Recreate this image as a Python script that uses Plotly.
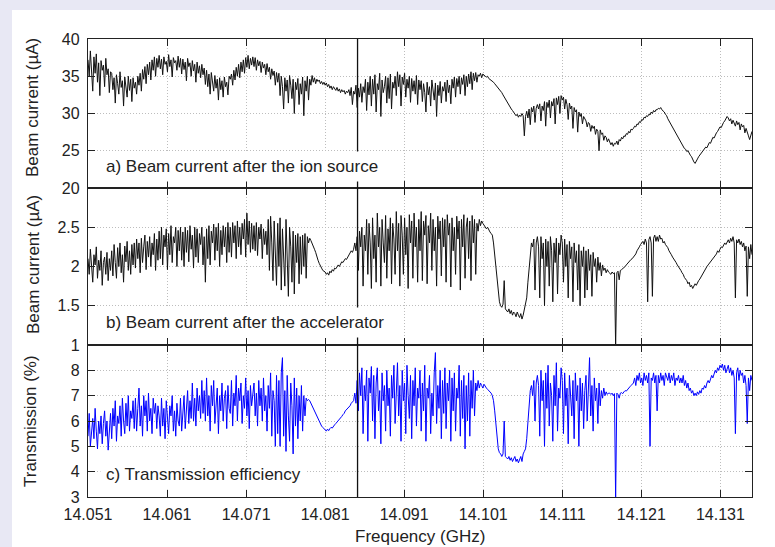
import numpy as np
import plotly.graph_objects as go

# ---------------- data ----------------
FREQ_START = 14.051      # GHz, first sample
FREQ_STEP = 0.00015

ion_source_uA = [
    37.2, 35.0, 38.4, 36.1, 33.0, 37.6, 35.4, 38.0, 34.2, 36.8, 32.4, 37.1, 35.8, 36.5, 33.6, 37.4, 35.2, 36.0, 32.8, 35.6,
    35.4, 33.2, 34.8, 31.4, 35.2, 34.0, 32.6, 35.6, 33.5, 34.4, 31.0, 34.9, 33.8, 32.2, 35.0, 33.1, 34.6, 31.6, 34.8, 33.4,
    34.2, 32.6, 35.0, 33.8, 35.4, 33.0, 35.9, 34.6, 36.3, 34.0, 36.6, 35.2, 36.9, 34.5, 37.2, 35.8, 37.6, 35.0, 37.4, 36.2,
    37.8, 36.0, 37.3, 35.2, 37.6, 36.6, 37.0, 35.6, 37.9, 36.3, 37.2, 34.9, 37.5, 36.8, 37.1, 35.8, 37.7, 36.2, 37.4, 35.3,
    37.3, 35.9, 36.9, 34.4, 37.4, 36.3, 36.8, 35.0, 37.1, 35.7, 36.6, 34.2, 36.9, 35.4, 36.4, 34.8, 36.6, 35.2, 36.1, 33.9,
    35.8, 33.6, 35.3, 32.6, 35.5, 34.0, 33.0, 35.1, 33.4, 34.6, 31.8, 34.8, 33.2, 34.4, 32.2, 34.9, 33.6, 34.2, 32.5, 35.0,
    34.6, 35.3, 33.8, 35.8, 34.5, 36.2, 35.0, 36.6, 34.8, 36.9, 35.6, 37.2, 35.4, 37.5, 36.2, 37.8, 36.0, 37.4, 36.5, 37.6,
    36.3, 37.5, 35.8, 37.2, 36.4, 37.0, 35.5, 36.9, 36.1, 36.6, 35.2, 36.7, 35.6, 36.2, 34.6, 36.0, 35.1, 35.7, 33.8, 35.5,
    34.2, 35.4, 32.4, 35.0, 33.6, 30.6, 34.8, 33.0, 34.5, 31.4, 35.1, 33.8, 32.0, 34.6, 30.0, 34.2, 33.2, 34.7, 31.2, 34.0,
    32.6, 34.9, 29.7, 34.4, 33.0, 35.0, 31.8, 34.6, 33.8, 35.1, 34.2, 34.8, 34.0, 34.6, 34.3, 34.5, 34.0, 34.3, 33.9, 34.2,
    33.8, 34.1, 33.6, 33.9, 33.4, 33.7, 33.2, 33.6, 33.3, 33.1, 33.5, 33.0, 33.3, 32.8, 33.2, 32.9, 33.1, 32.6, 33.0, 32.8,
    33.2, 32.4, 33.5, 31.2, 33.0, 32.6, 33.8, 30.8, 33.4, 32.2, 34.0, 31.5, 33.6, 32.8, 34.6, 30.4, 34.2, 32.5, 35.0, 31.0,
    34.6, 32.6, 35.2, 30.2, 34.0, 33.2, 35.4, 29.6, 34.5, 32.8, 33.6, 35.0, 31.4, 34.8, 32.0, 35.3, 30.6, 34.2, 33.4, 35.0,
    32.4, 35.6, 33.6, 35.2, 31.0, 34.9, 33.9, 35.4, 32.2, 34.6, 33.4, 35.0, 31.5, 34.7, 33.0, 34.4, 32.6, 35.1, 31.2, 34.5,
    33.2, 34.4, 31.6, 34.0, 32.8, 30.2, 34.2, 32.5, 33.6, 31.0, 34.5, 33.0, 31.8, 34.1, 29.6, 33.8, 32.4, 34.3, 31.4, 33.6,
    33.0, 34.2, 31.6, 34.5, 32.8, 33.8, 31.3, 34.6, 33.4, 34.9, 32.2, 34.7, 33.6, 35.0, 32.6, 34.8, 33.9, 35.2, 32.4, 35.0,
    33.6, 35.3, 34.0, 35.6, 33.2, 35.4, 34.4, 35.5, 34.2, 35.2, 35.0, 35.4, 34.8, 35.3, 35.1, 35.0, 34.9, 35.0, 34.7, 34.6,
    34.5, 34.4, 34.2, 34.0, 33.8, 33.7, 33.4, 33.2, 33.0, 32.8, 32.5, 32.2, 32.0, 31.7, 31.4, 31.2, 30.9, 30.6, 30.4, 30.1,
    30.0, 29.7, 29.9, 29.5, 29.8, 29.6, 30.0, 29.7, 27.0, 29.6, 30.3, 29.4, 30.6, 28.5, 30.8, 30.2, 31.0, 28.8, 30.7, 31.2,
    30.6, 31.3, 29.0, 31.0, 30.4, 31.6, 28.3, 31.5, 30.8, 31.8, 29.4, 31.6, 31.0, 32.0, 28.6, 32.1, 31.2, 32.3, 30.0, 32.4,
    31.8, 32.2, 30.6, 31.9, 31.2, 29.2, 31.4, 30.6, 31.0, 28.0, 30.8, 30.2, 30.5, 27.5, 30.2, 29.6, 30.0, 28.6, 29.6, 29.2,
    29.0, 28.2, 28.8, 28.6, 27.6, 28.4, 28.0, 28.3, 27.2, 27.9, 27.6, 25.0, 27.8, 27.2, 27.4, 26.4, 27.0, 26.8, 26.2, 26.6,
    26.2, 25.8, 26.1, 25.6, 26.0, 25.9, 26.3, 25.8, 26.5, 26.3, 26.8, 26.6, 27.0, 26.9, 27.3, 27.2, 27.6, 27.4, 27.9, 27.8,
    28.0, 28.3, 28.2, 28.6, 28.5, 28.9, 28.8, 29.2, 29.1, 29.5, 29.4, 29.7, 29.6, 29.9, 29.8, 30.2, 30.0, 30.4, 30.2, 30.5,
    30.5, 30.7, 30.6, 30.8, 30.5, 30.4, 30.2, 29.9, 29.7, 29.3, 29.0, 28.7, 28.4, 28.1, 27.8, 27.5, 27.2, 26.9, 26.7, 26.4,
    26.1, 25.8, 25.6, 25.3, 25.2, 24.9, 25.0, 24.6, 24.4, 24.2, 23.8, 23.5, 23.3, 23.7, 23.9, 24.2, 24.4, 24.7, 24.8, 25.1,
    25.2, 25.5, 25.4, 25.8, 26.1, 26.0, 26.5, 26.8, 26.7, 27.2, 27.4, 27.6, 27.9, 28.2, 28.1, 28.6, 28.8, 29.0, 29.3, 29.6,
    29.4, 29.0, 29.3, 28.6, 29.1, 28.8, 28.3, 29.0, 28.5, 28.8, 27.8, 28.6, 28.2, 28.4, 27.4, 28.0, 27.6, 27.0, 26.5, 27.3,
    27.6,
]

accelerator_uA = [
    2.10, 1.90, 2.22, 1.98, 1.80, 2.15, 2.02, 2.25, 1.85, 2.08, 1.95, 2.20, 1.76, 2.05, 2.12, 1.90, 2.18, 1.82, 2.10, 1.95,
    2.20, 1.88, 2.28, 2.05, 1.85, 2.24, 2.00, 2.30, 1.92, 2.15, 1.80, 2.26, 2.06, 2.32, 1.95, 2.20, 1.90, 2.28, 2.02, 2.30,
    1.98, 2.35, 2.10, 2.30, 1.92, 2.36, 2.05, 2.25, 2.40, 1.96, 2.32, 2.12, 2.38, 2.00, 2.30, 2.15, 2.42, 1.95, 2.35, 2.08,
    2.45, 2.10, 2.50, 2.02, 2.40, 2.25, 2.48, 1.96, 2.42, 2.15, 2.52, 2.05, 2.38, 2.30, 2.50, 2.00, 2.46, 2.20, 2.50, 2.08,
    2.44, 2.00, 2.50, 2.18, 2.46, 2.06, 2.52, 2.22, 2.40, 1.98, 2.50, 2.12, 2.48, 2.05, 2.42, 2.28, 2.50, 2.02, 2.38, 1.80,
    2.48, 2.10, 2.52, 2.02, 2.45, 2.30, 2.54, 2.08, 2.50, 2.20, 2.55, 2.00, 2.46, 2.15, 2.52, 2.25, 2.50, 2.05, 2.56, 2.18,
    2.50, 2.12, 2.56, 2.30, 2.52, 2.10, 2.58, 2.25, 2.50, 2.15, 2.55, 2.35, 2.60, 2.12, 2.68, 2.28, 2.58, 2.18, 2.55, 2.22,
    2.52, 2.20, 2.56, 2.14, 2.50, 2.35, 2.54, 2.10, 2.48, 2.28, 2.45, 2.15, 2.60, 1.95, 2.64, 2.30, 1.82, 2.58, 2.10, 1.76,
    2.55, 2.00, 2.62, 1.70, 2.48, 2.20, 1.75, 2.60, 2.10, 1.62, 2.50, 2.25, 1.80, 2.45, 1.65, 2.40, 2.05, 2.42, 1.78, 2.38,
    1.90, 2.40, 2.00, 2.42, 1.85, 2.38, 2.30, 2.36, 2.33, 2.30, 2.26, 2.22, 2.18, 2.12, 2.08, 2.04, 2.00, 1.98, 1.95, 1.94,
    1.93, 1.90, 1.92, 1.89, 1.94, 1.92, 1.96, 1.94, 1.98, 1.97, 2.00, 2.02, 2.00, 2.04, 2.06, 2.05, 2.08, 2.10, 2.09, 2.12,
    2.14, 2.16, 2.20, 2.18, 2.22, 2.30, 2.20, 2.38, 1.95, 2.45, 2.25, 2.50, 1.75, 2.40, 2.20, 2.60, 1.90, 2.55, 2.30, 1.72,
    2.62, 2.10, 2.40, 1.80, 2.68, 2.25, 2.50, 1.75, 2.60, 2.30, 2.05, 2.65, 1.85, 2.48, 2.20, 2.62, 1.78, 2.55, 2.35, 1.90,
    2.70, 2.20, 2.55, 1.75, 2.65, 2.40, 1.90, 2.62, 2.15, 2.50, 1.72, 2.66, 2.30, 2.58, 1.85, 2.68, 2.25, 2.50, 1.80, 2.60,
    2.20, 2.70, 1.82, 2.58, 2.40, 2.65, 1.78, 2.52, 2.30, 2.68, 1.95, 2.60, 2.20, 2.50, 1.75, 2.64, 2.35, 2.58, 1.88, 2.62,
    2.25, 2.60, 1.80, 2.66, 2.40, 2.55, 1.74, 2.62, 2.20, 2.50, 1.90, 2.64, 2.35, 2.58, 1.70, 2.60, 2.25, 2.66, 1.85, 2.50,
    2.62, 2.10, 2.58, 1.82, 2.65, 2.30, 2.60, 1.90, 2.55, 2.45, 2.60, 2.52, 2.58, 2.55, 2.52, 2.50, 2.48, 2.50, 2.46, 2.44,
    2.42, 2.40, 2.30, 2.15, 2.00, 1.80, 1.62, 1.55, 1.50, 1.48, 1.52, 1.82, 1.46, 1.44, 1.42, 1.46, 1.40, 1.44, 1.38, 1.42,
    1.40, 1.36, 1.42, 1.38, 1.35, 1.40, 1.33, 1.38, 1.45, 1.50, 1.60, 1.80, 2.00, 2.20, 2.30, 2.25, 2.35, 1.70, 2.30, 2.38,
    2.25, 1.60, 2.38, 2.10, 2.30, 1.50, 2.35, 2.00, 2.32, 1.75, 2.38, 2.20, 1.55, 2.30, 2.05, 2.36, 1.65, 2.30, 2.15, 2.40,
    2.30, 1.80, 2.35, 2.00, 2.28, 1.60, 2.32, 2.10, 2.25, 1.55, 2.30, 2.05, 2.20, 1.70, 2.28, 1.50, 2.20, 2.00, 2.25, 1.60,
    2.20, 1.70, 2.22, 1.95, 2.15, 1.62, 2.18, 2.00, 2.10, 1.80, 2.12, 1.95, 2.05, 1.88, 2.02, 1.95, 1.98, 1.92, 1.96, 1.93,
    1.92, 1.90, 1.93, 1.91, 1.92, 0.98, 1.92, 1.94, 1.83, 1.95, 1.96, 1.97, 1.99, 2.00, 2.02, 2.04, 2.05, 2.07, 2.09, 2.10,
    2.12, 2.14, 2.16, 2.20, 2.22, 2.25, 2.28, 2.30, 2.32, 2.28, 2.35, 2.30, 1.55, 2.34, 2.38, 2.30, 1.62, 2.36, 2.40, 2.32,
    2.38, 2.32, 2.40, 2.35, 2.36, 2.30, 2.32, 2.28, 2.26, 2.24, 2.20, 2.18, 2.15, 2.12, 2.10, 2.07, 2.05, 2.02, 2.00, 1.97,
    1.95, 1.92, 1.90, 1.86, 1.84, 1.82, 1.78, 1.80, 1.74, 1.76, 1.72, 1.75, 1.78, 1.76, 1.80, 1.82, 1.84, 1.87, 1.90, 1.92,
    1.95, 1.97, 2.00, 2.02, 2.04, 2.06, 2.08, 2.10, 2.12, 2.14, 2.16, 2.20, 2.18, 2.22, 2.25, 2.24, 2.28, 2.30, 2.28, 2.32,
    2.34, 2.30, 2.36, 2.32, 2.38, 2.30, 1.60, 2.34, 2.30, 2.35, 2.28, 2.32, 2.25, 2.30, 2.20, 2.26, 1.62, 2.25, 2.10, 2.28,
    2.15,
]

transmission_pct = [
    5.4, 6.3, 5.0, 5.8, 6.1, 5.3, 6.5, 5.6, 4.9, 6.0, 5.5, 6.2, 5.1, 5.9, 6.4, 5.4, 6.0, 4.85, 5.7, 6.3,
    5.3, 6.5, 5.8, 6.8, 5.2, 6.2, 5.9, 6.6, 5.4, 6.9, 6.0, 5.5, 6.7, 5.8, 7.0, 5.6, 6.4, 6.1, 6.8, 5.7,
    6.9, 5.6, 6.5, 7.3, 5.8, 6.6, 5.4, 7.0, 6.2, 6.8, 5.6, 7.1, 6.0, 6.5, 5.5, 6.9, 6.3, 6.7, 5.7, 6.6,
    6.2, 5.4, 6.9, 5.8, 6.5, 5.3, 6.8, 6.0, 5.5, 6.6, 6.2, 7.0, 5.6, 6.4, 5.4, 6.7, 6.0, 5.8, 6.9, 5.6,
    6.3, 7.0, 5.7, 6.6, 7.2, 5.9, 6.8, 6.1, 7.5, 6.0, 6.9, 5.8, 7.3, 6.4, 7.0, 6.1, 7.6, 6.3, 7.2, 6.0,
    7.7, 6.2, 7.0, 5.6, 7.4, 6.6, 7.6, 5.9, 6.8, 7.3, 5.5, 7.0, 6.4, 7.5, 6.0, 6.9, 7.2, 5.7, 7.4, 6.5,
    6.3, 7.6, 5.8, 7.1, 6.6, 7.8, 6.0, 7.3, 6.8, 7.5, 5.9, 7.0, 6.5, 7.7, 6.2, 7.2, 5.7, 7.4, 6.6, 7.0,
    7.5, 6.2, 7.1, 5.8, 7.6, 6.6, 7.3, 6.0, 7.7, 6.4, 7.0, 5.6, 7.4, 6.5, 7.9, 5.4, 7.2, 6.8, 5.0, 7.8,
    5.5, 7.6, 5.0, 7.9, 8.5, 5.4, 7.2, 4.8, 7.8, 6.2, 5.2, 7.5, 6.6, 4.7, 7.7, 5.8, 7.3, 5.3, 7.0, 6.0,
    7.4, 5.6, 7.0, 6.2, 6.9, 6.8, 6.85, 6.8, 6.7, 6.6, 6.5, 6.4, 6.3, 6.15, 6.05, 5.95, 5.85, 5.8, 5.75, 5.7,
    5.65, 5.6, 5.68, 5.62, 5.7, 5.75, 5.72, 5.8, 5.85, 5.9, 5.95, 6.0, 6.05, 6.1, 6.18, 6.25, 6.3, 6.4, 6.45, 6.5,
    6.55, 6.6, 6.7, 6.75, 6.8, 7.1, 6.7, 7.6, 6.4, 7.9, 7.0, 8.1, 5.5, 7.4, 6.8, 8.0, 5.2, 7.7, 7.1, 8.15,
    6.0, 7.8, 5.3, 7.5, 8.1, 6.4, 7.2, 5.1, 7.9, 6.8, 7.4, 5.6, 8.0, 6.6, 7.3, 5.4, 7.8, 6.9, 8.2, 5.9,
    7.6, 8.3, 6.2, 7.4, 5.2, 8.0, 6.8, 7.5, 5.5, 8.2, 7.0, 6.1, 7.8, 5.3, 7.6, 6.6, 8.1, 5.8, 7.3, 6.9,
    8.0, 5.6, 7.5, 6.4, 8.2, 5.2, 7.3, 6.9, 7.8, 5.5, 7.1, 6.2, 7.9, 8.7, 5.9, 7.4, 6.5, 8.0, 5.3, 7.6,
    6.3, 8.1, 5.7, 7.5, 6.8, 8.0, 5.2, 7.7, 6.4, 7.9, 5.6, 7.3, 6.9, 8.2, 5.4, 7.6, 6.1, 7.8, 4.9, 7.4,
    6.0, 7.9, 5.4, 7.6, 6.5, 8.0, 6.2, 7.5, 7.2, 7.6, 7.3, 7.5, 7.4, 7.3, 7.45, 7.35, 7.3, 7.25, 7.2, 7.15,
    7.1, 7.0, 6.8, 6.4, 5.9, 5.4, 4.9, 4.75, 4.7, 4.6, 4.7, 6.0, 4.6, 4.55, 4.5, 4.6, 4.45, 4.55, 4.4, 4.5,
    4.6, 4.4, 4.5, 4.35, 4.45, 4.6, 4.4, 4.7, 4.8, 4.9, 5.3, 5.9, 6.6, 7.2, 7.4, 7.0, 7.6, 6.0, 7.5, 7.8,
    7.4, 5.4, 8.0, 6.8, 7.6, 5.0, 7.9, 6.5, 8.2, 5.8, 7.5, 7.0, 5.2, 7.8, 6.6, 8.3, 5.6, 7.3, 6.9, 8.1,
    7.6, 5.5, 7.9, 6.6, 7.3, 5.1, 7.8, 7.0, 6.2, 7.6, 5.3, 7.9, 6.8, 7.4, 5.0, 7.7, 6.4, 7.5, 5.7, 7.2,
    7.8, 6.0, 7.6, 8.5, 6.2, 7.4, 5.6, 7.7, 6.8, 7.3, 5.9, 7.5, 6.6, 7.2, 6.9, 7.3, 7.0, 7.15, 7.05, 7.1,
    7.1, 7.05, 7.1, 7.0, 7.08, 2.9, 7.1, 7.05, 6.9, 7.1, 7.12, 7.08, 7.15, 7.2, 7.18, 7.25, 7.3, 7.35, 7.4, 7.45,
    7.5, 7.7, 7.4, 7.8, 7.6, 7.9, 7.5, 7.7, 7.4, 7.9, 7.6, 7.8, 7.5, 7.9, 5.0, 7.7, 7.6, 7.9, 7.5, 7.8,
    6.4, 7.8, 7.5, 7.9, 7.6, 7.8, 7.4, 7.9, 7.7, 7.6, 7.9, 7.5, 7.8, 7.6, 7.9, 7.4, 7.7, 7.6, 7.8, 7.5,
    7.7, 7.5, 7.8, 7.4, 7.6, 7.3, 7.5, 7.2, 7.3, 7.1, 7.2, 7.0, 7.1, 7.0, 7.15, 7.05, 7.2, 7.1, 7.3, 7.25,
    7.4, 7.3, 7.5, 7.6, 7.5, 7.7, 7.8, 7.7, 7.9, 8.0, 7.9, 8.1, 8.0, 8.2, 8.1, 8.25, 8.0, 8.2, 7.9, 8.1,
    8.2, 7.9, 8.1, 7.8, 8.0, 7.7, 5.5, 7.9, 8.1, 7.6, 8.0, 7.8, 7.9, 7.5, 7.8, 7.4, 5.9, 7.7, 7.2, 7.8,
    7.6,
]

x_tick_vals = [14.051, 14.061, 14.071, 14.081, 14.091, 14.101, 14.111, 14.121, 14.131]
x_tick_text = ["14.051", "14.061", "14.071", "14.081", "14.091", "14.101", "14.111", "14.121", "14.131"]
x_range = [14.051, 14.135]
marker_freq = 14.0851

a_ticks = [20, 25, 30, 35, 40]
a_text = ["20", "25", "30", "35", "40"]
b_ticks = [1, 1.5, 2, 2.5, 3]
b_text = ["1", "1.5", "2", "2.5", ""]
c_ticks = [3, 4, 5, 6, 7, 8, 9]
c_text = ["3", "4", "5", "6", "7", "8", ""]

panel_labels = ["a) Beam current after the ion source",
                "b) Beam current after the accelerator",
                "c) Transmission efficiency"]
y_titles = ["Beam current (\u00b5A)", "Beam current (\u00b5A)", "Transmission (%)"]
x_title = "Frequency (GHz)"

# ---------------- figure ----------------
def freq_for(series):
    return np.round(FREQ_START + FREQ_STEP * np.arange(len(series)), 5)

W, H = 775, 547
L, R, T, B = 88, 23, 39, 50
PH = H - T - B            # 458
PW = W - L - R            # 664

def py(pix):   # pixel row -> paper y
    return (H - B - pix) / PH

def px(pix):   # pixel column -> paper x
    return (pix - L) / PW

FONT = "Liberation Sans, Arial, Helvetica, sans-serif"
TXT = "#222222"

fig = go.Figure()
fig.add_trace(go.Scatter(x=freq_for(ion_source_uA), y=ion_source_uA, mode="lines",
                         line=dict(color="#111111", width=1), xaxis="x", yaxis="y",
                         showlegend=False))
fig.add_trace(go.Scatter(x=freq_for(accelerator_uA), y=accelerator_uA, mode="lines",
                         line=dict(color="#111111", width=1), xaxis="x2", yaxis="y2",
                         showlegend=False))
fig.add_trace(go.Scatter(x=freq_for(transmission_pct), y=transmission_pct, mode="lines",
                         line=dict(color="#0000ff", width=1), xaxis="x3", yaxis="y3",
                         showlegend=False))

axis_common = dict(
    showline=True, linecolor="#222222", linewidth=1.3, mirror="ticks",
    ticks="inside", ticklen=7, tickwidth=1, tickcolor="#222222",
    showgrid=True, gridcolor="#bdbdbd", gridwidth=1, griddash="1px,2px",
    zeroline=False, automargin=False,
    tickfont=dict(family=FONT, size=16, color=TXT),
)

dom_a = [py(188), 1.0]
dom_b = [py(345), py(188)]
dom_c = [0.0, py(345)]

xa = dict(axis_common, range=x_range, tickvals=x_tick_vals, ticktext=x_tick_text)
fig.update_layout(
    width=W, height=H,
    margin=dict(l=L, r=R, t=T, b=B),
    paper_bgcolor="white", plot_bgcolor="white",
    xaxis=dict(xa, anchor="y", showticklabels=False),
    xaxis2=dict(xa, anchor="y2", matches="x", showticklabels=False),
    xaxis3=dict(xa, anchor="y3", matches="x", showticklabels=True, ticklabelstandoff=3),
    yaxis=dict(axis_common, domain=dom_a, range=[20, 40], tickvals=a_ticks, ticktext=a_text,
               anchor="x", ticklabelstandoff=4),
    yaxis2=dict(axis_common, domain=dom_b, range=[1, 3], tickvals=b_ticks, ticktext=b_text,
                anchor="x2", ticklabelstandoff=4),
    yaxis3=dict(axis_common, domain=dom_c, range=[3, 9], tickvals=c_ticks, ticktext=c_text,
                anchor="x3", ticklabelstandoff=4),
    showlegend=False,
)

LAV = "#e8e8f4"
fig.add_shape(type="rect", xref="paper", yref="paper", x0=px(-5), x1=px(780),
              y0=py(10), y1=py(-5), fillcolor=LAV, line=dict(width=0), layer="below")
fig.add_shape(type="rect", xref="paper", yref="paper", x0=px(-5), x1=px(12),
              y0=py(552), y1=py(-5), fillcolor=LAV, line=dict(width=0), layer="below")

fig.add_shape(type="line", xref="x3", yref="paper", x0=marker_freq, x1=marker_freq,
              y0=0, y1=1, line=dict(color="#111111", width=1.3), layer="above")

label_rows = [166.7, 322.7, 474.0]
for text, row in zip(panel_labels, label_rows):
    fig.add_annotation(text=text, xref="paper", yref="paper", x=px(100), y=py(row),
                       xanchor="left", yanchor="middle", showarrow=False,
                       bgcolor="white", borderpad=5,
                       font=dict(family=FONT, size=17, color=TXT))

title_pos = [(33, 108), (33, 265), (30, 421)]
for text, (cx, cy) in zip(y_titles, title_pos):
    fig.add_annotation(text=text, xref="paper", yref="paper", x=px(cx), y=py(cy),
                       xanchor="center", yanchor="middle", textangle=-90, showarrow=False,
                       font=dict(family=FONT, size=17, color=TXT))

fig.add_annotation(text=x_title, xref="paper", yref="paper", x=0.5, y=py(536),
                   xanchor="center", yanchor="middle", showarrow=False,
                   font=dict(family=FONT, size=17, color=TXT))

fig.write_html("out.html", config={"displayModeBar": False},
               post_script="document.body.style.margin='0px';")
